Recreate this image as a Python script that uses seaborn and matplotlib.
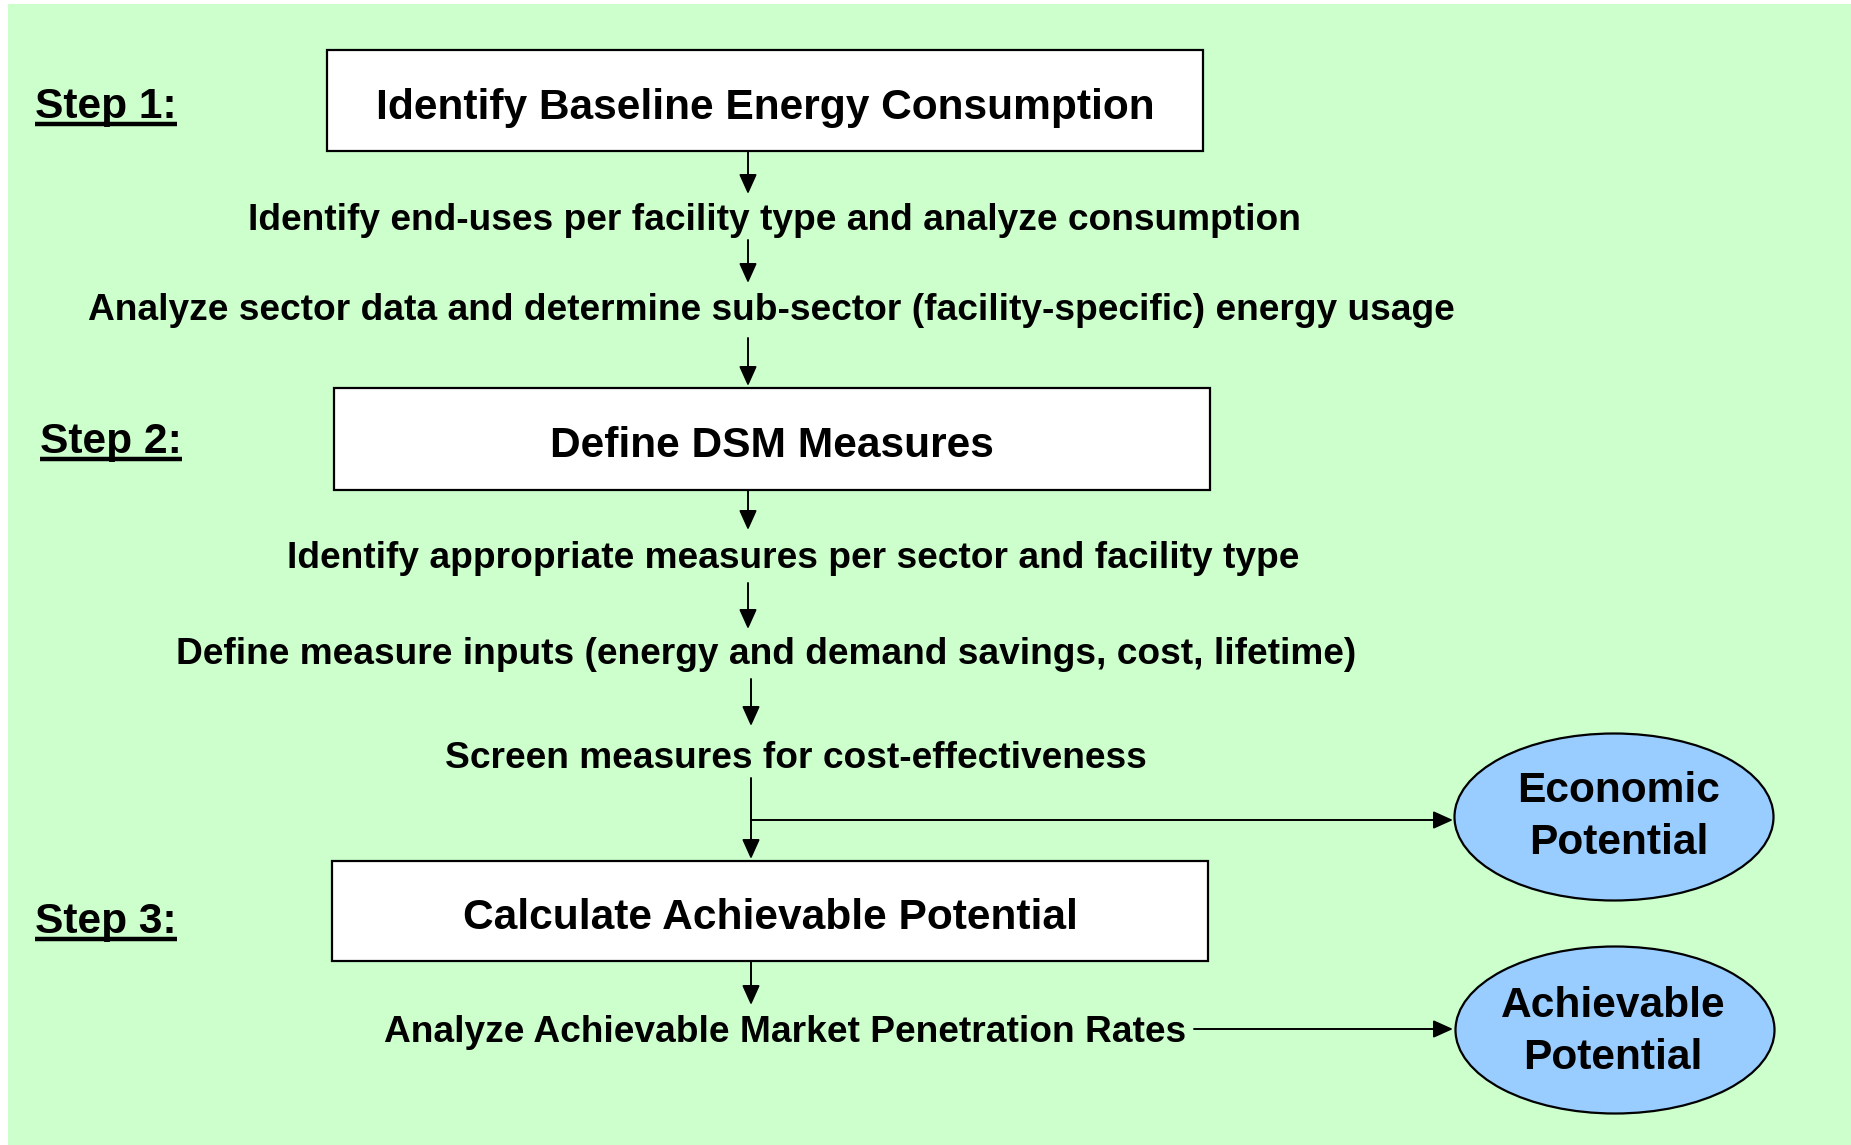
import matplotlib
matplotlib.use("Agg")
import matplotlib.pyplot as plt
import seaborn as sns
from matplotlib.patches import Rectangle, Ellipse

# Flowchart content
step_labels = ["Step 1:", "Step 2:", "Step 3:"]
box_labels = ["Identify Baseline Energy Consumption",
              "Define DSM Measures",
              "Calculate Achievable Potential"]
sub_labels = ["Identify end-uses per facility type and analyze consumption",
              "Analyze sector data and determine sub-sector (facility-specific) energy usage",
              "Identify appropriate measures per sector and facility type",
              "Define measure inputs (energy and demand savings, cost, lifetime)",
              "Screen measures for cost-effectiveness",
              "Analyze Achievable Market Penetration Rates"]
outcome_labels = ["Economic\nPotential", "Achievable\nPotential"]

# layout (pixel coordinates, y downwards)
step_pos = [(35, 107), (40, 442), (35, 922)]
box_pos = [(327, 50, 876, 101), (334, 388, 876, 102), (332, 861, 876, 100)]
sub_pos = [(774, 220), (771, 310), (793, 558), (766, 654), (796, 759), (785, 1032)]
ell_pos = [(1614, 817), (1615, 1030)]
ell_text_dx = [5, -2]
ell_text_dy = [0, 2]
arrows = [((748, 151), (748, 194)), ((748, 240), (748, 283)), ((748, 338), (748, 386)),
          ((748, 490), (748, 530)), ((748, 583), (748, 629)), ((751, 679), (751, 726)),
          ((751, 778), (751, 859)), ((751, 820), (1453, 820)), ((751, 961), (751, 1005)),
          ((1194, 1029), (1453, 1029))]

W, H = 1851, 1145
sns.set_theme(style="white")
plt.rcParams["font.family"] = ["Liberation Sans", "DejaVu Sans"]
plt.rcParams["text.color"] = "black"

fig = plt.figure(figsize=(W / 100, H / 100), dpi=100)
ax = fig.add_axes([0, 0, 1, 1])
ax.set_xlim(0, W)
ax.set_ylim(H, 0)
ax.axis("off")

ax.add_patch(Rectangle((8, 4), W - 8, H - 4, facecolor="#CCFFCC", edgecolor="none", zorder=0))

big = 30.6
small = 26.7

for (x, y, w, h), lab in zip(box_pos, box_labels):
    ax.add_patch(Rectangle((x, y), w, h, facecolor="white", edgecolor="black", lw=1.6, zorder=2))
    ax.text(x + w / 2, y + h / 2 + 7, lab, ha="center", va="center", fontsize=big,
            fontweight="bold", color="black", zorder=3)

step_texts = []
for (x, y), lab in zip(step_pos, step_labels):
    t = ax.text(x, y, lab, ha="left", va="center", fontsize=big, fontweight="bold",
                color="black", zorder=3)
    step_texts.append(t)

for (x, y), lab in zip(sub_pos, sub_labels):
    ax.text(x, y, lab, ha="center", va="center", fontsize=small, fontweight="bold",
            color="black", zorder=3)

for (cx, cy), dx, dy, lab in zip(ell_pos, ell_text_dx, ell_text_dy, outcome_labels):
    ax.add_patch(Ellipse((cx, cy), 319, 167, facecolor="#99CCFF", edgecolor="black", lw=1.6, zorder=2))
    ax.text(cx + dx, cy + dy, lab, ha="center", va="center", fontsize=big, fontweight="bold",
            linespacing=1.36, color="black", zorder=3)

for start, end in arrows:
    ax.annotate("", xy=end, xytext=start,
                arrowprops=dict(arrowstyle="-|>,head_length=0.6,head_width=0.27",
                                mutation_scale=20, lw=1.4, color="black",
                                shrinkA=0, shrinkB=0), zorder=4)

# underline the step labels
fig.canvas.draw()
renderer = fig.canvas.get_renderer()
inv = ax.transData.inverted()
for t, (x, y) in zip(step_texts, step_pos):
    bb = t.get_window_extent(renderer)
    x0, _ = inv.transform((bb.x0, bb.y0))
    x1, _ = inv.transform((bb.x1, bb.y0))
    ax.plot([x0, x1], [y + 17, y + 17], color="black", lw=3.2, solid_capstyle="butt", zorder=3)

fig.savefig("out.png", dpi=100)
